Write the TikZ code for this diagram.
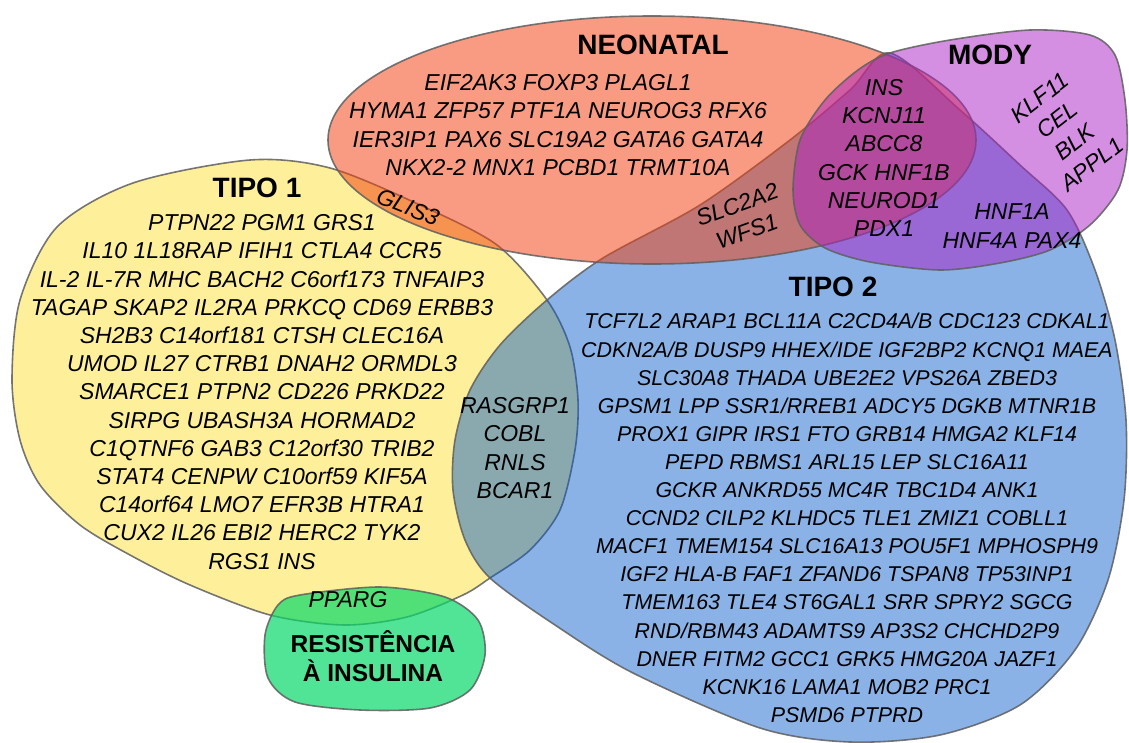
\documentclass[tikz,border=0pt]{standalone}
\usepackage{fontspec}
\setmainfont{Liberation Sans}
\definecolor{t1fill}{RGB}{254,240,155}
\definecolor{t2fill}{RGB}{0,87,200}
\definecolor{neofill}{RGB}{242,63,15}
\definecolor{modyfill}{RGB}{169,31,197}
\definecolor{irfill}{RGB}{8,216,105}
\definecolor{edgegray}{RGB}{95,95,95}

\begin{document}
\begin{tikzpicture}[x=1pt,y=-1pt,
    blob/.style={draw=edgegray,draw opacity=0.85,line width=1.6},
    gene/.style={font=\fontsize{23}{28.2}\selectfont\itshape,align=center,inner sep=0pt},
    narrowgene/.style={gene,font=\fontsize{21.4}{28.1}\selectfont\itshape},
    title/.style={font=\fontsize{28}{30}\selectfont\bfseries,inner sep=0pt}]
    \useasboundingbox (0,0) rectangle (1129,743);
    % tipo 1
    \path[blob,fill=t1fill] plot[smooth cycle] coordinates {(250,160) (330,168) (420,205) (497,245) (547,300) (570,347) (578,400) (575,450) (560,510) (530,550) (490,578) (463,595) (407,617) (344,625) (270,615) (190,585) (130,555) (80,525) (40,485) (20,440) (12,380) (20,300) (57,227) (133,183)};
    % resistencia a insulina
    \path[blob,fill=irfill,fill opacity=0.7] plot[smooth cycle] coordinates {(300,595) (380,587) (445,597) (478,620) (485,655) (470,690) (430,708) (360,710) (295,702) (268,678) (265,635) (278,605)};
    % tipo 2
    \path[blob,fill=t2fill,fill opacity=0.46] plot[smooth cycle] coordinates {(890,53) (960,110) (1020,165) (1067,210) (1095,270) (1115,340) (1126,420) (1124,500) (1108,580) (1075,650) (1020,705) (940,735) (850,742) (760,728) (633,673) (555,625) (490,578) (465,540) (453,490) (455,440) (470,390) (500,345) (547,300) (603,258) (700,205) (790,140) (850,90)};
    % neonatal
    \path[blob,fill=neofill,fill opacity=0.52] (652,140) ellipse [x radius=324,y radius=124];
    % mody
    \path[blob,fill=modyfill,fill opacity=0.5] plot[smooth cycle] coordinates {(890,53) (950,40) (1030,30) (1090,35) (1115,55) (1125,100) (1127,150) (1118,190) (1090,225) (1050,250) (1000,263) (940,270) (870,262) (825,248) (800,225) (793,190) (800,140) (825,100) (858,70)};

    \node[title] (neonatal) at (653,45) {NEONATAL};
    \node[gene] (neogenes) at (558,125) {EIF2AK3 FOXP3 PLAGL1\\HYMA1 ZFP57 PTF1A NEUROG3 RFX6\\IER3IP1 PAX6 SLC19A2 GATA6 GATA4\\NKX2-2 MNX1 PCBD1 TRMT10A};
    \node[title] (tipo1) at (257,188) {TIPO 1};
    \node[gene] (t1genes) at (262,392) {PTPN22 PGM1 GRS1\\IL10 1L18RAP IFIH1 CTLA4 CCR5\\IL-2 IL-7R MHC BACH2 C6orf173 TNFAIP3\\TAGAP SKAP2 IL2RA PRKCQ CD69 ERBB3\\SH2B3 C14orf181 CTSH CLEC16A\\UMOD IL27 CTRB1 DNAH2 ORMDL3\\SMARCE1 PTPN2 CD226 PRKD22\\SIRPG UBASH3A HORMAD2\\C1QTNF6 GAB3 C12orf30 TRIB2\\STAT4 CENPW C10orf59 KIF5A\\C14orf64 LMO7 EFR3B HTRA1\\CUX2 IL26 EBI2 HERC2 TYK2\\RGS1 INS};
    \node[gene,rotate=-22] (glis) at (408,207) {GLIS3};
    \node[gene,rotate=20] (slc) at (742,218) {SLC2A2\\WFS1};
    \node[title] (mody) at (990,55) {MODY};
    \node[gene] (modyins) at (884,158) {INS\\KCNJ11\\ABCC8\\GCK HNF1B\\NEUROD1\\PDX1};
    \node[gene,rotate=38] (klf) at (1066,131) {KLF11\\CEL\\BLK\\APPL1};
    \node[gene] (hnf) at (1012,226) {HNF1A\\HNF4A PAX4};
    \node[title] (tipo2) at (833,287) {TIPO 2};
    \node[narrowgene] (t2genes) at (847,518) {TCF7L2 ARAP1 BCL11A C2CD4A/B CDC123 CDKAL1\\CDKN2A/B DUSP9 HHEX/IDE IGF2BP2 KCNQ1 MAEA\\SLC30A8 THADA UBE2E2 VPS26A ZBED3\\GPSM1 LPP SSR1/RREB1 ADCY5 DGKB MTNR1B\\PROX1 GIPR IRS1 FTO GRB14 HMGA2 KLF14\\PEPD RBMS1 ARL15 LEP SLC16A11\\GCKR ANKRD55 MC4R TBC1D4 ANK1\\CCND2 CILP2 KLHDC5 TLE1 ZMIZ1 COBLL1\\MACF1 TMEM154 SLC16A13 POU5F1 MPHOSPH9\\IGF2 HLA-B FAF1 ZFAND6 TSPAN8 TP53INP1\\TMEM163 TLE4 ST6GAL1 SRR SPRY2 SGCG\\RND/RBM43 ADAMTS9 AP3S2 CHCHD2P9\\DNER FITM2 GCC1 GRK5 HMG20A JAZF1\\KCNK16 LAMA1 MOB2 PRC1\\PSMD6 PTPRD};
    \node[gene] (rasgrp) at (515,448) {RASGRP1\\COBL\\RNLS\\BCAR1};
    \node[gene] (pparg) at (348,600) {PPARG};
    \node[font=\fontsize{24.5}{28.5}\selectfont\bfseries,align=center,inner sep=0pt] (resist) at (373,656) {RESISTÊNCIA\\À INSULINA};
\end{tikzpicture}
\end{document}
